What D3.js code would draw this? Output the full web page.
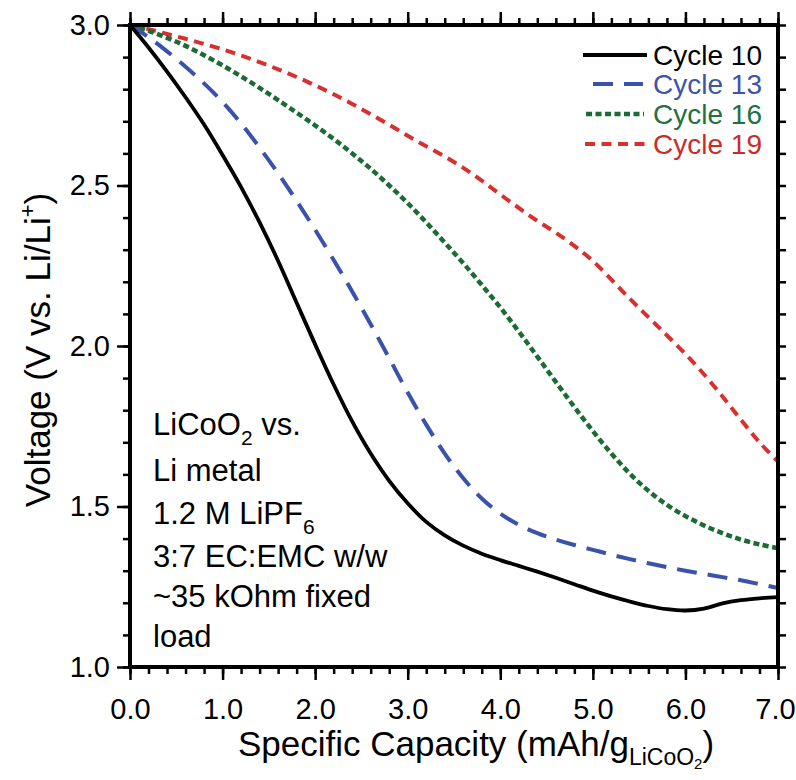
<!DOCTYPE html>
<html><head><meta charset="utf-8">
<script src="https://cdn.jsdelivr.net/npm/d3@7"></script>
<style>body{margin:0;background:#fff}svg{display:block}text{font-family:"Liberation Sans",Arial,sans-serif}</style>
</head><body>
<script>
const capacity = [0,0.2,0.4,0.6,0.8,1.0,1.2,1.4,1.6,1.8,2.0,2.2,2.4,2.6,2.8,3.0,3.2,3.4,3.6,3.8,4.0,4.2,4.4,4.6,4.8,5.0,5.2,5.4,5.6,5.8,6.0,6.2,6.4,6.6,6.8,7.0];
const cycle10 = [3.0,2.93,2.855,2.775,2.69,2.595,2.495,2.385,2.265,2.135,2.005,1.88,1.765,1.665,1.58,1.51,1.452,1.41,1.378,1.353,1.333,1.315,1.297,1.278,1.258,1.238,1.22,1.204,1.19,1.18,1.176,1.182,1.198,1.208,1.214,1.218];
const cycle13 = [3.0,2.962,2.918,2.87,2.818,2.76,2.693,2.618,2.538,2.452,2.362,2.268,2.17,2.068,1.962,1.855,1.755,1.665,1.588,1.525,1.478,1.443,1.417,1.397,1.38,1.365,1.35,1.336,1.323,1.311,1.30,1.29,1.28,1.27,1.258,1.246];
const cycle16 = [3.0,2.982,2.96,2.935,2.906,2.874,2.84,2.804,2.766,2.727,2.687,2.645,2.6,2.552,2.5,2.445,2.385,2.322,2.258,2.19,2.12,2.045,1.967,1.888,1.81,1.735,1.665,1.602,1.549,1.505,1.47,1.441,1.417,1.397,1.382,1.37];
const cycle19 = [3.0,2.987,2.972,2.957,2.941,2.924,2.905,2.884,2.862,2.838,2.812,2.784,2.754,2.722,2.689,2.655,2.622,2.59,2.555,2.515,2.472,2.43,2.39,2.353,2.312,2.265,2.207,2.147,2.09,2.033,1.975,1.912,1.843,1.77,1.70,1.64];
const seriesNames = ["Cycle 10","Cycle 13","Cycle 16","Cycle 19"];
const xTicks = [0,1,2,3,4,5,6,7];
const yTicks = [1.0,1.5,2.0,2.5,3.0];
const annotation = [["LiCoO","2"," vs."],["Li metal"],["1.2 M LiPF","6"],["3:7 EC:EMC w/w"],["~35 kOhm fixed"],["load"]];

const W=796,H=780, m={l:130,r:18,t:25,b:113};
const svg=d3.select("body").append("svg").attr("width",W).attr("height",H);
const x=d3.scaleLinear().domain([0,7]).range([m.l,W-m.r]);
const y=d3.scaleLinear().domain([1,3]).range([H-m.b,m.t]);

const styles=[
 {color:"#000000",dash:null,w:3.8,text:"#000000"},
 {color:"#3a52aa",dash:"20,11",w:4,text:"#3d55a8"},
 {color:"#1b6b34",dash:"6,3.5",w:4.5,text:"#237040"},
 {color:"#d8302f",dash:"10,6.5",w:4,text:"#cc2b2b"}
];
const data=[cycle10,cycle13,cycle16,cycle19];
const line=d3.line().x((d,i)=>x(capacity[i])).y(d=>y(d)).curve(d3.curveCatmullRom.alpha(0.5));
const plot=svg.append("g");
[3,2,1,0].forEach(k=>{
  plot.append("path").datum(data[k]).attr("d",line).attr("fill","none")
   .attr("stroke",styles[k].color).attr("stroke-width",styles[k].w)
   .attr("stroke-dasharray",styles[k].dash);
});

// axes
const minorX=d3.range(0,7.001,0.2), minorY=d3.range(1,3.001,0.1);
function ax(g,axis){g.call(axis);g.select(".domain").remove();g.selectAll("line").attr("stroke","#000").attr("stroke-width",2.5);}
const tickFont=29;
svg.append("g").attr("transform",`translate(0,${H-m.b})`).call(g=>ax(g,d3.axisBottom(x).tickValues(minorX).tickSize(7).tickFormat("")));
const xg=svg.append("g").attr("transform",`translate(0,${H-m.b})`).call(g=>ax(g,d3.axisBottom(x).tickValues(xTicks).tickSize(13).tickPadding(18).tickFormat(d3.format(".1f"))));
xg.selectAll("text").attr("font-size",tickFont).attr("fill","#000").attr("dx",(d,i)=>i===xTicks.length-1?-3:0);
svg.append("g").attr("transform",`translate(0,${m.t})`).call(g=>ax(g,d3.axisTop(x).tickValues(minorX).tickSize(7).tickFormat("")));
svg.append("g").attr("transform",`translate(0,${m.t})`).call(g=>ax(g,d3.axisTop(x).tickValues(xTicks).tickSize(13).tickFormat("")));
svg.append("g").attr("transform",`translate(${m.l},0)`).call(g=>ax(g,d3.axisLeft(y).tickValues(minorY).tickSize(7).tickFormat("")));
svg.append("g").attr("transform",`translate(${m.l},0)`).call(g=>ax(g,d3.axisLeft(y).tickValues(yTicks).tickSize(13).tickPadding(7).tickFormat(d3.format(".1f"))))
  .selectAll("text").attr("font-size",tickFont).attr("fill","#000");
svg.append("g").attr("transform",`translate(${W-m.r},0)`).call(g=>ax(g,d3.axisRight(y).tickValues(minorY).tickSize(8).tickFormat("")));
svg.append("rect").attr("x",m.l).attr("y",m.t).attr("width",W-m.l-m.r).attr("height",H-m.t-m.b)
  .attr("fill","none").attr("stroke","#000").attr("stroke-width",4);

// axis labels
const yl=svg.append("text").attr("transform",`translate(50,${(m.t+H-m.b)/2+4}) rotate(-90)`).attr("text-anchor","middle").attr("font-size",35);
yl.append("tspan").text("Voltage (V vs. Li/Li");
yl.append("tspan").attr("font-size",22).attr("dy",-15).text("+");
yl.append("tspan").attr("dy",15).text(")");
const xl=svg.append("text").attr("x",476).attr("y",756).attr("text-anchor","middle").attr("font-size",35);
xl.append("tspan").text("Specific Capacity (mAh/g");
xl.append("tspan").attr("font-size",23).attr("dy",9).text("LiCoO");
xl.append("tspan").attr("font-size",15).attr("dy",4).text("2");
xl.append("tspan").attr("dy",-13).text(")");

// annotation
const annY=[435,481,524,567,607,647];
annotation.forEach((parts,i)=>{
  const t=svg.append("text").attr("x",153).attr("y",annY[i]).attr("font-size",31);
  parts.forEach((p,j)=>{
    const sub = parts.length>1 && j===1;
    const ts=t.append("tspan").text(p);
    if(sub) ts.attr("font-size",21).attr("dy",10);
    else if(j===2) ts.attr("dy",-10);
  });
});

// legend
const legY=[55,84,114,144];
const legX1=[583,593,586,585], legX2=[647,643,644,647];
seriesNames.forEach((n,i)=>{
  svg.append("line").attr("x1",legX1[i]).attr("x2",legX2[i]).attr("y1",legY[i]).attr("y2",legY[i])
    .attr("stroke",styles[i].color).attr("stroke-width",styles[i].w).attr("stroke-dasharray",styles[i].dash);
  svg.append("text").attr("x",762).attr("y",legY[i]+10).attr("text-anchor","end").attr("font-size",28)
    .attr("fill",styles[i].text).text(n);
});
</script>
</body></html>
